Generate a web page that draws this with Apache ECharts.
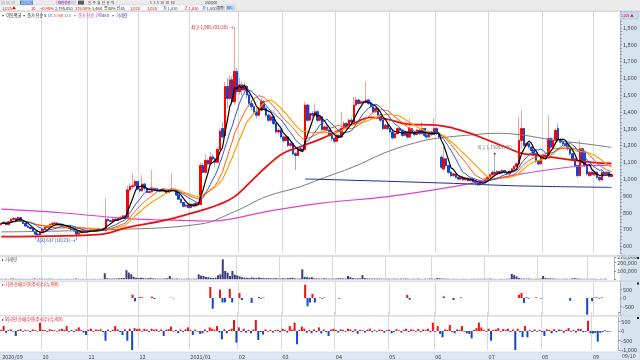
<!DOCTYPE html>
<html><head><meta charset="utf-8">
<script src="https://cdn.jsdelivr.net/npm/echarts@6/dist/echarts.min.js"></script>
<style>html,body{margin:0;padding:0;background:#fff}#c{width:640px;height:360px}</style>
</head><body><div id="c"></div>
<script>
// [open, close, low, high]
const candles = [
[728,735,722,742],[735,742,730,748],[742,728,724,745],[728,745,726,750],[745,760,740,768],[760,765,752,776],[765,752,748,770],[752,770,748,778],[770,748,745,772],[748,735,730,752],[735,720,715,740],[720,712,708,725],[712,705,698,716],[705,688,684,708],[688,672,640,692],[672,668,660,680],[668,680,664,684],
[680,700,678,704],[700,712,696,716],[712,718,708,722],[718,730,715,736],[730,735,726,742],[735,738,728,748],[738,730,725,742],[730,725,720,734],[725,720,715,730],[720,712,708,724],[712,718,708,724],[718,706,702,720],[706,700,695,710],[700,690,685,704],[690,672,637,694],[672,680,668,684],[680,685,676,690],[685,690,680,694],[690,688,684,694],
[688,692,685,696],[692,695,688,700],[695,690,686,698],[690,698,688,702],[698,702,694,706],[702,700,696,706],[700,705,697,710],[692,760,688,885],[760,752,745,765],[752,748,742,758],[748,760,745,766],[760,755,750,764],[755,768,752,772],[768,772,764,778],[772,780,768,786],[780,775,770,784],[772,935,770,960],[935,955,925,975],[955,960,940,1034],[960,985,950,1000],[985,940,935,990],
[940,930,920,948],[930,970,925,1024],[970,945,930,975],[945,920,915,950],[920,925,912,932],[925,935,918,1054],[935,940,928,948],[940,930,925,945],[930,928,920,936],[928,935,924,942],[935,925,920,940],[925,920,914,930],[920,930,916,936],[930,940,924,1034],[940,935,928,946],[935,905,900,938],[905,880,875,908],[880,860,852,884],[860,838,830,864],[838,845,832,852],[845,830,825,850],
[830,850,826,856],[850,840,835,855],[840,855,836,860],[855,850,845,862],[848,1080,845,1100],[1080,1040,1030,1095],[1040,1110,1035,1150],[1110,1090,1080,1120],[1090,1130,1085,1160],[1130,1120,1110,1150],[1120,1100,1070,1130],[1100,1175,1095,1190],[1175,1285,1170,1300],[1300,1250,1240,1340],[1260,1550,1255,1580],[1550,1480,1420,1600],[1480,1590,1470,1620],[1590,1460,1440,1610],[1460,1640,1440,1906],[1640,1520,1500,1660],
[1520,1560,1500,1600],[1560,1530,1500,1580],[1530,1550,1510,1575],[1550,1500,1480,1560],[1500,1450,1430,1510],[1450,1430,1410,1470],[1430,1400,1380,1445],[1400,1380,1360,1420],[1380,1410,1370,1430],[1410,1460,1400,1480],[1460,1420,1410,1470],[1420,1380,1370,1430],[1380,1350,1340,1390],[1350,1370,1340,1385],[1370,1330,1320,1380],[1330,1280,1270,1340],[1280,1290,1265,1305],[1290,1250,1240,1300],
[1250,1230,1215,1260],[1230,1250,1220,1262],[1250,1200,1190,1255],[1200,1210,1190,1225],[1210,1150,1140,1215],[1150,1140,1054,1160],[1140,1180,1135,1190],[1180,1170,1160,1195],[1170,1175,1160,1185],[1175,1440,1170,1460],[1440,1350,1340,1450],[1350,1390,1345,1440],[1390,1380,1365,1405],[1380,1400,1370,1450],[1400,1350,1340,1410],[1350,1370,1345,1385],[1370,1295,1285,1375],[1295,1310,1285,1320],[1310,1290,1280,1318],[1290,1260,1250,1295],[1260,1240,1225,1265],[1240,1225,1215,1250],
[1225,1260,1220,1270],[1260,1250,1240,1268],[1250,1300,1245,1400],[1300,1330,1295,1345],[1330,1310,1300,1340],[1310,1350,1305,1360],[1350,1340,1330,1365],[1340,1440,1335,1490],[1440,1470,1430,1490],[1470,1450,1440,1478],[1450,1460,1445,1470],[1460,1455,1445,1468],[1455,1470,1450,1580],[1470,1450,1440,1478],[1450,1430,1420,1458],[1430,1400,1390,1436],[1400,1420,1395,1430],[1420,1380,1370,1425],[1380,1350,1340,1388],[1350,1300,1290,1355],[1300,1320,1295,1330],[1320,1300,1290,1328],
[1300,1280,1270,1305],[1280,1245,1235,1285],[1245,1270,1240,1280],[1270,1300,1265,1310],[1300,1290,1280,1308],[1290,1260,1250,1295],[1260,1280,1255,1290],[1280,1250,1240,1285],[1250,1300,1245,1360],[1300,1280,1270,1305],[1280,1265,1255,1285],[1265,1290,1260,1300],[1290,1270,1260,1295],[1270,1300,1265,1340],[1300,1260,1250,1305],[1260,1250,1240,1268],[1250,1280,1245,1290],[1280,1265,1255,1285],[1265,1300,1260,1361],
[1300,1270,1262,1310],[1270,1250,1240,1275],[1130,1070,1060,1140],[1060,1120,1050,1190],[1120,1080,1070,1125],[1080,1040,1030,1085],[1040,1020,1010,1048],[1020,1030,1012,1038],[1030,1010,1002,1035],[1010,1000,992,1015],[1000,1010,995,1016],[1010,995,988,1014],[995,1005,990,1010],[1005,990,985,1008],[990,1000,984,1005],[1000,985,978,1003],[985,975,968,990],[975,965,958,980],[965,980,960,985],[980,975,968,986],[975,1000,972,1006],[1000,1010,995,1016],
[1010,1025,1005,1030],[1025,1040,1020,1048],[1040,1030,1020,1150],[1030,1045,1025,1052],[1045,1035,1028,1050],[1035,1050,1030,1058],[1050,1040,1032,1055],[1040,1030,1024,1046],[1030,1045,1026,1050],[1045,1060,1040,1066],[1060,1075,1055,1082],[1075,1090,1068,1098],[1090,1230,1085,1370],[1230,1300,1180,1410],[1300,1200,1190,1305],[1200,1210,1190,1222],[1210,1190,1180,1215],[1190,1170,1160,1195],[1170,1150,1140,1176],[1150,1110,1095,1155],[1110,1090,1080,1115],[1090,1130,1085,1140],
[1130,1140,1120,1150],[1140,1125,1115,1148],[1125,1240,1120,1380],[1240,1190,1180,1250],[1190,1230,1185,1245],[1230,1290,1220,1300],[1300,1235,1225,1330],[1235,1220,1210,1245],[1220,1210,1198,1230],[1210,1200,1190,1218],[1200,1180,1170,1205],[1180,1150,1140,1185],[1150,1120,1110,1155],[1120,1080,1070,1125],[1080,1020,1010,1085],[1020,1180,1015,1232],[1180,1100,1090,1185],[1160,1080,1070,1170],[1080,1030,1020,1085],[1020,1040,1012,1046],[1040,1025,1018,1045],
[1025,1040,1020,1048],[1040,1010,1000,1044],[1010,995,984,1015],[995,1040,990,1046],[1040,1030,1022,1044],[1030,1040,1025,1046],[1040,1015,1008,1044],[1015,1025,1010,1030]
];
const volumes = [
6000,5000,7000,4000,8000,9000,6000,5000,7000,4000,5000,6000,4000,7000,9000,5000,8000,
6000,7000,5000,8000,6000,5000,4000,6000,5000,4000,6000,5000,4000,6000,9000,5000,4000,5000,4000,
5000,4000,6000,5000,4000,6000,5000,72000,12000,9000,8000,10000,9000,12000,15000,14000,110000,80000,60000,30000,18000,
15000,20000,14000,10000,12000,18000,10000,9000,8000,7000,8000,9000,12000,40000,10000,8000,9000,7000,6000,5000,8000,
7000,6000,8000,7000,60000,45000,40000,28000,25000,18000,15000,20000,48000,60000,240000,100000,80000,40000,100000,55000,
45000,35000,25000,20000,18000,15000,22000,18000,15000,22000,16000,14000,12000,15000,10000,12000,14000,10000,
9000,12000,10000,14000,16000,20000,10000,9000,8000,120000,30000,25000,20000,25000,12000,10000,9000,8000,12000,10000,8000,7000,
9000,8000,14000,12000,10000,9000,40000,25000,15000,10000,12000,10000,50000,15000,10000,9000,8000,10000,8000,9000,7000,6000,
7000,8000,6000,9000,7000,6000,8000,7000,10000,6000,5000,7000,6000,8000,6000,5000,7000,6000,9000,
8000,6000,14000,12000,9000,8000,7000,6000,5000,6000,5000,4000,5000,6000,5000,4000,5000,6000,5000,6000,7000,5000,
6000,5000,9000,6000,5000,4000,5000,6000,5000,6000,7000,64000,50000,35000,15000,10000,8000,7000,9000,6000,5000,7000,
6000,8000,40000,15000,10000,12000,9000,7000,6000,5000,6000,7000,6000,5000,9000,14000,8000,9000,6000,5000,6000,
5000,6000,7000,5000,4000,6000,5000,8000
];
// [dayIndex, net buy]
const instNet = [
[54,195],[55,-195],[57,60],[58,40],[62,80],[63,-60],[70,20],[71,-20],[86,650],[87,-630],[90,490],[91,-260],[92,-260],[94,530],[95,-260],[98,290],[99,-120],[103,-290],[106,60],[107,-40],[108,30],
[125,780],[126,-490],[127,-260],[128,250],[129,-260],[131,30],[132,-40],[133,30],[139,-40],[167,180],[168,-100],[182,100],[186,-120],[189,40],
[213,190],[214,290],[215,-290],[216,50],[217,-40],[220,40],[222,-30],[234,-160],[241,-980],[243,-190],[244,30],[245,40],[246,-40],[247,40]
];
const foreignNet = [
60,260,-90,40,80,-30,-260,50,90,-40,60,30,-50,80,40,-30,440,
70,50,-40,90,60,40,-30,80,120,60,260,-40,60,-60,90,190,50,-80,-210,
60,120,-40,80,50,90,-60,-510,70,-40,60,260,80,-60,-210,90,-510,120,-1000,150,100,
120,-40,110,80,-60,120,60,90,-40,80,-260,60,100,230,-40,60,-120,80,-60,90,190,
60,-210,70,-40,-150,-120,80,-60,190,120,60,260,-80,-440,90,-120,60,120,580,-610,
190,-60,120,-90,60,-120,80,580,-470,-60,-190,90,-40,60,-80,50,70,-60,
120,60,-80,260,80,440,-700,60,230,120,-90,60,-120,80,-60,190,-130,80,-60,-260,70,120,
60,-80,90,60,-40,120,80,-60,90,-150,60,40,-80,70,120,-60,50,-40,80,60,-90,40,
70,-120,-60,90,40,-80,60,120,-50,80,60,-40,100,-60,80,50,120,-60,440,
-40,260,-150,-330,80,60,315,-60,-120,80,60,260,-40,-120,-150,-385,60,150,440,190,60,-40,
120,-510,60,80,150,-40,100,60,120,-60,80,-1030,120,-60,-330,260,-330,60,-60,80,-40,60,
-60,-260,80,60,-120,90,-60,80,60,-90,70,150,-40,60,-80,120,100,-60,-40,540,-120,
-130,-110,-560,-90,-60,40,-40,-30
];
// long moving averages: [dayIndex, price]
const ma60Pts = [[0,657],[20,660],[41,670],[52,712],[68,756],[82,812],[89,845],[96,895],[104,1004],[109,1073],[116,1153],[123,1192],[131,1236],[138,1282],[145,1331],[152,1367],[159,1355],[167,1327],[179,1321],[186,1302],[193,1272],[200,1232],[207,1192],[214,1153],[220,1143],[227,1129],[235,1113],[244,1097],[251,1093]];
const ma120Pts = [[0,685],[41,697],[82,732],[96,806],[109,895],[123,954],[131,998],[145,1073],[159,1163],[172,1222],[179,1242],[193,1262],[204,1272],[214,1262],[227,1232],[241,1208],[251,1188]];
const ma240Pts = [[0,820],[27,796],[54,762],[68,756],[87,750],[96,766],[109,806],[131,855],[159,895],[186,954],[214,1030],[235,1073],[251,1083]];
const ma480Pts = [[125,1000],[131,998],[186,974],[210,960],[251,950]];
const monthStarts = [0,17,36,57,78,98,116,138,160,179,201,223,244];
const monthLabels = ['2020/09','10','11','12','2021/01','02','03','04','05','06','07','08','09'];
const slotCount = 255;

const FONT = '"Noto Sans CJK KR","Noto Sans",sans-serif';
const cats = Array.from({length: slotCount}, (_, i) => String(i));
const closes = candles.map(c => c[1]);
function ma(n) {
  return closes.map((_, i) => {
    const s = Math.max(0, i - n + 1); let t = 0;
    for (let k = s; k <= i; k++) t += closes[k];
    return +(t / (i - s + 1)).toFixed(1);
  });
}
const fmt = v => Number(v).toLocaleString('en-US');
const bodies = candles.map(c => [c[0], c[1], Math.min(c[0], c[1]), Math.max(c[0], c[1])]);
const lastClose = closes[closes.length - 1];
const lastVol = volumes[volumes.length - 1];

const isMonth = i => monthStarts.indexOf(i) >= 0;
function xAx(k) {
  return {
    type: 'category', gridIndex: k, data: cats, boundaryGap: true, position: 'bottom',
    axisLine: {show: false}, axisTick: {show: false},
    axisLabel: {show: k === 3, interval: (i) => isMonth(i) && i > 0, hideOverlap: false,
      formatter: (v) => { const m = monthStarts.indexOf(Number(v)); return m > 0 ? monthLabels[m] : ''; },
      align: 'left', fontSize: 5.5, color: '#444', margin: 4, fontFamily: FONT},
    splitLine: {show: true, interval: (i) => isMonth(i) && i > 0, lineStyle: {color: '#d9d9d9', width: 1}}
  };
}
const yLab = {fontSize: 5.5, color: '#444', margin: 3, fontFamily: FONT};
const yLine = {show: true, lineStyle: {color: '#a8b4c4', width: 1}};

function T(x, y, s, c, fs, extra) {
  return Object.assign({type: 'text', x: x, y: y, z: 120, silent: true,
    style: {text: s, fill: c, font: (fs || 5) + 'px ' + FONT, verticalAlign: 'middle'}}, extra || {});
}
function R(x, y, w, h, fill, z, stroke) {
  return {type: 'rect', z: z === undefined ? 110 : z, silent: true, shape: {x: x, y: y, width: w, height: h},
    style: {fill: fill, stroke: stroke || null, lineWidth: 0.5}};
}

const graphics = [
  R(620, 11, 20, 341, '#d6e3f1', -10),
  R(0, 352, 640, 8, '#dfe8f3', -10, '#b9c6d6'),
  R(0, 0, 640, 11, '#ebebeb', 100),
  R(0, 5, 236, 6, '#fbfbfb', 101, '#c9c9c9'),
  R(1, 0.8, 4, 3.6, '#cfcfcf', 101), R(6, 0.8, 4, 3.6, '#cfcfcf', 101), R(11, 0.8, 4, 3.6, '#cfcfcf', 101),
  R(20, 0.6, 13, 4, '#3e70d6', 101),
  R(56, 0.6, 20, 4, '#d8c8ee', 101),
  R(78, 0.6, 6, 4, '#5a5a5a', 101),
  T(21, 2.6, '000950', '#fff', 3.4),
  T(58, 2.6, '대한전선', '#7030a0', 3.4),
  T(88, 2.6, '일  주  월  년  분  틱', '#444', 3.4),
  T(150, 2.6, '1  3  5  10  30  60', '#444', 3.4),
  T(205, 2.6, '250,000', '#333', 3.4),
  T(2, 8, '1,025▲', '#e00000', 4),
  T(31, 8, '10', '#e00000', 4),
  T(40, 8, '+0.98%', '#e00000', 4),
  T(55, 8, '2,795,050', '#333', 4),
  T(75, 8, '176.50%', '#e00000', 4),
  T(92, 8, '3,464', '#333', 4),
  T(104, 8, '증40% 신45', '#333', 4),
  T(130, 8, '1,020', '#e00000', 4),
  T(147, 8, '1,035', '#e00000', 4),
  T(163, 8, '저 1,010', '#1a45c8', 4),
  T(184, 8, '고 1,030', '#e00000', 4),
  T(202, 8, '저 1,000', '#1a45c8', 4),
  R(216, 5.5, 9, 5, '#d0d0d0', 102), T(217, 8, '종목', '#333', 3.6),
  R(226, 5.5, 9, 5, '#bcd0ee', 102), T(227, 8, 'BiC', '#1a45c8', 3.6),
  R(0, 10.8, 640, 0.6, '#bdbdbd', 101),
  T(1, 15.5, '▪ 이동평균', '#222', 4.2),
  T(22, 15.5, '▪ 종가 단순', '#222', 4.2),
  T(44, 15.5, '5', '#000', 4.2), T(47.5, 15.5, '10', '#2a5bd7', 4.2), T(53, 15.5, '20', '#ff5a14', 4.2),
  T(58.5, 15.5, '60', '#e81010', 4.2), T(64, 15.5, '120', '#808080', 4.2),
  T(73, 15.5, '▪ 종가 단순 240', '#d030c0', 4.2), T(102, 15.5, '480', '#1e2e9a', 4.2),
  T(111, 15.5, '▪ 거래량', '#3c3c9c', 4.2),
  R(620, 12, 18, 7, '#c9dcf3', 102, '#9fb6d6'),
  T(621, 15.5, '1,025 ▲', '#e00000', 3.4),
  R(0, 255.2, 640, 1.6, '#d5d5d5', 105),
  R(0, 280.4, 640, 1.4, '#d5d5d5', 105),
  R(0, 315.2, 640, 1.4, '#d5d5d5', 105),
  T(2, 259.5, '▸ 거래량', '#444', 4.4),
  T(2, 284.8, '▸ 기관 순매수량(주식수)(누적X)', '#e01010', 4.4),
  T(2, 319.5, '▸ 외국인 순매수량(주식수)(누적X)', '#e01010', 4.4),
  R(637, 257, 2, 2, '#222', 106), R(637, 282.5, 2, 2, '#222', 106), R(637, 317, 2, 2, '#222', 106),
  T(622, 356, '09/10', '#444', 5.2)
];

const chart = echarts.init(document.getElementById('c'), null, {renderer: 'canvas'});
chart.setOption({
  animation: false,
  backgroundColor: '#ffffff',
  textStyle: {fontFamily: FONT},
  grid: [
    {left: 0, width: 620, top: 11, height: 241.9},
    {left: 0, width: 620, top: 256.9, height: 22.4},
    {left: 0, width: 620, top: 281, height: 34},
    {left: 0, width: 620, top: 312, height: 38}
  ],
  xAxis: [xAx(0), xAx(1), xAx(2), xAx(3)],
  yAxis: [
    {gridIndex: 0, type: 'value', position: 'right', min: 560, max: 2000, interval: 20, scale: true,
      axisLine: yLine, axisTick: {show: true, length: 2, lineStyle: {color: '#8a9ab0'}},
      axisLabel: Object.assign({formatter: v => (v % 100 === 0 && v < 2000) ? fmt(v) : ''}, yLab),
      splitLine: {show: false}},
    {gridIndex: 1, type: 'value', position: 'right', min: 0, max: 270000, interval: 100000,
      axisLine: yLine, axisTick: {show: true, length: 2, lineStyle: {color: '#8a9ab0'}},
      axisLabel: Object.assign({formatter: v => v === 0 ? '' : fmt(v)}, yLab), splitLine: {show: false}},
    {gridIndex: 2, type: 'value', position: 'right', min: -1000, max: 1000, interval: 500,
      axisLine: yLine, axisTick: {show: true, length: 2, lineStyle: {color: '#8a9ab0'}},
      axisLabel: Object.assign({formatter: v => Math.abs(v) === 1000 ? '' : fmt(v)}, yLab), splitLine: {show: false}},
    {gridIndex: 3, type: 'value', position: 'right', min: -1000, max: 1000, interval: 500,
      axisLine: yLine, axisTick: {show: true, length: 2, lineStyle: {color: '#8a9ab0'}},
      axisLabel: Object.assign({formatter: v => v === 1000 ? '' : fmt(v)}, yLab), splitLine: {show: false}}
  ],
  graphic: graphics,
  series: [
    {type: 'candlestick', xAxisIndex: 0, yAxisIndex: 0, data: candles, barWidth: 2, silent: true,
      itemStyle: {color: '#f4a3a3', color0: '#93afe8', borderColor: '#f4a3a3', borderColor0: '#93afe8', borderWidth: 1}},
    {type: 'candlestick', xAxisIndex: 0, yAxisIndex: 0, data: bodies, barWidth: 2, silent: true,
      itemStyle: {color: '#ff0000', color0: '#1446cc', borderColor: '#ff0000', borderColor0: '#1446cc', borderWidth: 1},
      markLine: {silent: true, symbol: 'none', animation: false,
        lineStyle: {opacity: 0},
        label: {show: true, position: 'end', distance: 2, formatter: fmt(lastClose), color: '#fff',
          backgroundColor: '#ff0000', padding: [0.5, 2], fontSize: 5.5, fontFamily: FONT},
        data: [{yAxis: lastClose}]},
      markPoint: {silent: true, animation: false, symbol: 'circle', symbolSize: 0,
        data: [
          {coord: [96, 1906], label: {show: true, position: 'left', distance: 1, formatter: '최고 1,905 (01/28) →', color: '#e01010', fontSize: 4.6, fontFamily: FONT}},
          {coord: [31, 637], label: {show: true, position: 'left', distance: 1, formatter: '최저 637 (10/23) →', color: '#1a45c8', fontSize: 4.6, fontFamily: FONT}},
          {coord: [203, 1150], symbolSize: 2, itemStyle: {color: '#e01010'}, label: {show: true, position: 'top', distance: 3, formatter: '최고 1,150(07/05)', color: '#777', fontSize: 4.4, fontFamily: FONT}}
        ]}},
    {type: 'line', xAxisIndex: 0, yAxisIndex: 0, data: ma240Pts, smooth: 0.4, symbol: 'none', lineStyle: {color: '#e040d0', width: 1.2}, silent: true},
    {type: 'line', xAxisIndex: 0, yAxisIndex: 0, data: ma120Pts, smooth: 0.4, symbol: 'none', lineStyle: {color: '#7c7c7c', width: 1}, silent: true},
    {type: 'line', xAxisIndex: 0, yAxisIndex: 0, data: ma480Pts, smooth: 0.3, symbol: 'none', lineStyle: {color: '#1e2e9a', width: 1}, silent: true},
    {type: 'line', xAxisIndex: 0, yAxisIndex: 0, data: ma60Pts, smooth: 0.4, symbol: 'none', lineStyle: {color: '#ee1010', width: 1.8}, silent: true},
    {type: 'line', xAxisIndex: 0, yAxisIndex: 0, data: ma(20), symbol: 'none', lineStyle: {color: '#ffa200', width: 1.2}, silent: true},
    {type: 'line', xAxisIndex: 0, yAxisIndex: 0, data: ma(15), symbol: 'none', lineStyle: {color: '#ff5a14', width: 1}, silent: true},
    {type: 'line', xAxisIndex: 0, yAxisIndex: 0, data: ma(10), symbol: 'none', lineStyle: {color: '#2a5bd7', width: 1}, silent: true},
    {type: 'line', xAxisIndex: 0, yAxisIndex: 0, data: ma(5), symbol: 'none', lineStyle: {color: '#000000', width: 1.2}, silent: true},
    {type: 'bar', xAxisIndex: 1, yAxisIndex: 1, data: volumes, barWidth: 2, silent: true, itemStyle: {color: '#3c3c7c'},
      markLine: {silent: true, symbol: 'none', animation: false, lineStyle: {opacity: 0},
        label: {show: true, position: 'end', distance: 2, formatter: fmt(lastVol), color: '#fff', backgroundColor: '#ff00ff',
          padding: [0.5, 2], fontSize: 5.2, fontFamily: FONT},
        data: [{yAxis: lastVol}]}},
    {type: 'bar', xAxisIndex: 2, yAxisIndex: 2, data: instNet, barWidth: 2, silent: true,
      itemStyle: {color: p => (p.value[1] >= 0 ? '#f01010' : '#1446cc')}},
    {type: 'bar', xAxisIndex: 3, yAxisIndex: 3, data: foreignNet, barWidth: 2, silent: true,
      itemStyle: {color: p => (p.value >= 0 ? '#f01010' : '#1446cc')},
      markPoint: {silent: true, animation: false, symbol: 'circle', symbolSize: 0,
        data: [{coord: ['0', -1000], label: {show: true, position: [1, 4], formatter: monthLabels[0],
          color: '#444', fontSize: 5.5, fontFamily: FONT, align: 'left', verticalAlign: 'top'}}]}}
  ]
});
</script></body></html>
